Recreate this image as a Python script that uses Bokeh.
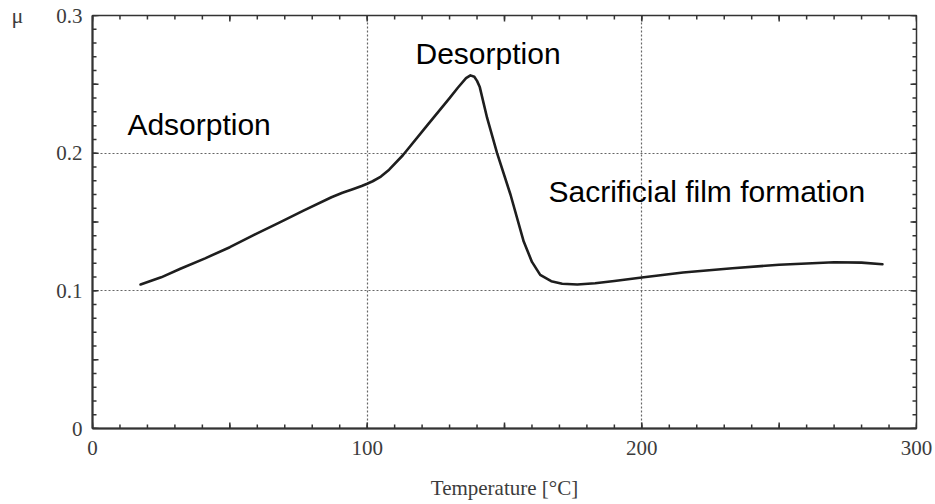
import math
from bokeh.plotting import figure
from bokeh.models import FixedTicker, Label, Range1d
from bokeh.embed import file_html
from bokeh.resources import INLINE

# --- data ---
temperature = [17.5, 25, 32, 41, 50, 59, 68, 77, 87, 91, 95, 98, 100, 102, 105, 108, 113,
               122, 130, 133, 136, 137.6, 139, 140, 141, 143.7, 147.3, 152.2, 157, 160,
               163, 167, 171, 176.5, 183, 190, 200, 215, 233, 250, 270, 280, 287.6]
mu = [0.1046, 0.1098, 0.1160, 0.1236, 0.1317, 0.1408, 0.1496, 0.1585, 0.1680, 0.1712,
      0.1740, 0.1762, 0.1778, 0.1796, 0.1830, 0.1880, 0.1985, 0.2206, 0.2400, 0.2475,
      0.2545, 0.2565, 0.2555, 0.2525, 0.2480, 0.2254, 0.2000, 0.1698, 0.1358, 0.1210,
      0.1116, 0.1070, 0.1052, 0.1046, 0.1055, 0.1072, 0.1097, 0.1133, 0.1164, 0.1190,
      0.1208, 0.1205, 0.1193]

x_major = [0, 50, 100, 150, 200, 250, 300]
x_minor = list(range(0, 301, 10))
x_labels = {50: "", 150: "", 250: ""}
y_major = [0, 0.05, 0.1, 0.15, 0.2, 0.25, 0.3]
y_minor = [i / 100 for i in range(0, 31)]
y_labels = {0: "0", 0.05: "", 0.1: "0.1", 0.15: "", 0.2: "0.2", 0.25: "", 0.3: "0.3"}
x_grid = [100, 200]
y_grid = [0.1, 0.2]

regions = [
    ("Adsorption", 12.7, 0.2207),
    ("Desorption", 117.6, 0.2725),
    ("Sacrificial film formation", 166.0, 0.1722),
]

AXIS_COL = "#333333"
LABEL_COL = "#3c3c3c"
SERIF = "Liberation Serif"
X0, X1, Y0, Y1 = 0, 300, 0, 0.3

p = figure(width=935, height=504, output_backend="svg", toolbar_location=None,
           x_range=Range1d(X0, X1), y_range=Range1d(Y0, Y1),
           min_border_left=92, min_border_right=19, min_border_top=15, min_border_bottom=76)
p.background_fill_color = "white"
p.border_fill_color = "white"
p.outline_line_color = AXIS_COL
p.outline_line_width = 1.5


def style_axis(ax, ticks, overrides):
    ax.ticker = FixedTicker(ticks=ticks, minor_ticks=[])
    ax.axis_line_color = AXIS_COL
    ax.axis_line_width = 2
    ax.major_tick_in = 0
    ax.major_tick_out = 0
    ax.minor_tick_in = 0
    ax.minor_tick_out = 0
    ax.major_tick_line_color = None
    ax.minor_tick_line_color = None
    ax.major_label_overrides = overrides
    ax.major_label_text_font = SERIF
    ax.major_label_text_font_size = "21px"
    ax.major_label_text_color = LABEL_COL


xa = p.xaxis[0]
style_axis(xa, x_major, x_labels)
xa.major_label_standoff = 12
xa.axis_label = "Temperature [°C]"
xa.axis_label_text_font = SERIF
xa.axis_label_text_font_size = "21px"
xa.axis_label_text_font_style = "normal"
xa.axis_label_text_color = LABEL_COL
xa.axis_label_standoff = 18

ya = p.yaxis[0]
style_axis(ya, y_major, y_labels)
ya.major_label_standoff = 10

# the "μ" symbol at the top-left, as the y axis' own label
mu_done = False
try:
    ya.axis_label = "μ"
    ya.axis_label_orientation = "horizontal"
    ya.axis_label_align = "end"
    ya.axis_label_text_font = SERIF
    ya.axis_label_text_font_size = "22px"
    ya.axis_label_text_font_style = "normal"
    ya.axis_label_text_color = LABEL_COL
    ya.axis_label_standoff = 30
    mu_done = True
except Exception:
    ya.axis_label = None

p.xgrid.ticker = FixedTicker(ticks=x_grid)
p.ygrid.ticker = FixedTicker(ticks=y_grid)
for g in (p.xgrid[0], p.ygrid[0]):
    g.grid_line_color = "#666666"
    g.grid_line_dash = "2 2"
    g.grid_line_width = 1.2

# inward tick marks on all four sides of the frame (half of each dash is clipped by the frame)
for yy in (Y0, Y1):
    p.scatter(x_minor, [yy] * len(x_minor), marker="dash", angle=math.pi / 2, size=8,
              line_color=AXIS_COL, line_width=1.5)
    p.scatter(x_major, [yy] * len(x_major), marker="dash", angle=math.pi / 2, size=12,
              line_color=AXIS_COL, line_width=1.5)
for xx in (X0, X1):
    p.scatter([xx] * len(y_minor), y_minor, marker="dash", size=8,
              line_color=AXIS_COL, line_width=1.5)
    p.scatter([xx] * len(y_major), y_major, marker="dash", size=12,
              line_color=AXIS_COL, line_width=1.5)

p.line(temperature, mu, line_color="#1e1e1e", line_width=2.6, line_join="round", line_cap="round")

for txt, xx, yy in regions:
    p.add_layout(Label(x=xx, y=yy, text=txt, text_font="Liberation Sans",
                       text_font_size="30px", text_color="black", text_baseline="alphabetic"))

if not mu_done:
    p.add_layout(Label(x=12, y=504 - 22, x_units="screen", y_units="screen", text="μ",
                       text_font=SERIF, text_font_size="22px", text_color=LABEL_COL,
                       text_baseline="alphabetic"))

open("out.html", "w").write(file_html(p, INLINE))
